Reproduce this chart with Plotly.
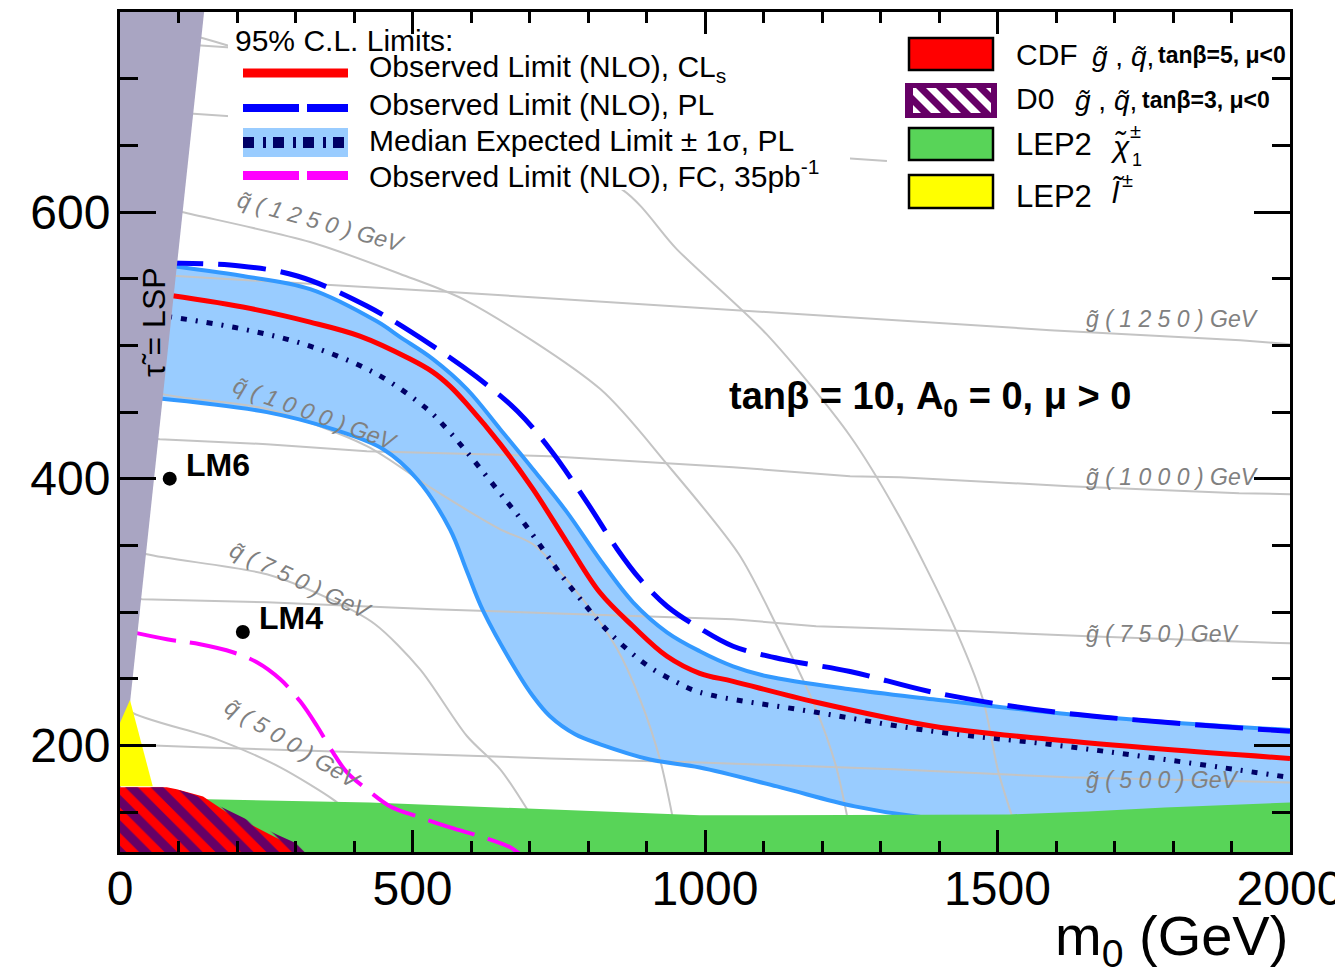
import plotly.graph_objects as go

FONT = "Liberation Sans, Arial, Helvetica, sans-serif"

# ---------------- data: m0 [GeV] vs m1/2 [GeV] ----------------
# Observed limit (NLO), CLs
cls_m0 = [60, 210, 325, 410, 496, 535, 564, 593, 650, 706, 764, 820, 877, 935, 991, 1048, 1190, 1390, 1588, 1786, 2000]
cls_m12 = [539, 528.7, 517.4, 506.9, 489.7, 479.9, 469.4, 455.9, 425.9, 392.1, 352.3, 314.8, 289.3, 266.8, 254.0, 248.0, 232.3, 214.3, 204.5, 197.0, 190.2]
# Observed limit (NLO), PL
pl_m0 = [60, 205, 303, 422, 535, 610, 679, 735, 798, 850, 889, 935, 991, 1048, 1133, 1248, 1390, 1588, 1786, 2000]
pl_m12 = [562, 559.5, 552.0, 529.5, 499.4, 476.2, 450.7, 422.1, 382.4, 347.1, 324.6, 304.3, 287.8, 274.3, 264.5, 255.4, 239.8, 225.5, 217.3, 210.5]
# Median expected limit, PL
exp_m0 = [60, 210, 325, 439, 525, 559, 593, 662, 696, 757, 790, 826, 867, 906, 952, 991, 1190, 1390, 1588, 1786, 2000]
exp_m12 = [523, 512.2, 499.4, 478.4, 452.2, 437.2, 419.9, 382.4, 363.6, 326.1, 308.1, 289.3, 272.0, 258.5, 247.3, 239.8, 224.8, 210.5, 200.8, 189.4, 175.9]
# +1 sigma / -1 sigma band edges
up_m0 = [60, 210, 325, 439, 479, 535, 593, 650, 706, 764, 820, 877, 935, 991, 1048, 1106, 1248, 1390, 1588, 1786, 2000]
up_m12 = [561, 552.0, 542.2, 518.0, 506.2, 489.7, 467.2, 437.1, 407.1, 374.9, 339.6, 307.3, 284.8, 270.6, 259.3, 251.8, 242.0, 234.5, 224.8, 217.5, 211.5]
lo_m0 = [60, 251, 364, 450, 508, 564, 593, 621, 679, 706, 735, 778, 821, 906, 991, 1123, 1256, 1362, 1500, 1700, 2000]
lo_m12 = [460.5, 449.9, 437.1, 422.1, 399.6, 362.1, 330.6, 300.6, 254.8, 236.8, 221.8, 208.3, 200.8, 189.4, 183.4, 169.2, 154.2, 146.6, 142, 140, 140]
# Observed limit (NLO), FC, 35 pb-1
fc_m0 = [15, 80, 137, 193, 234, 274, 308, 337, 364, 388, 422, 462, 508, 564, 621, 667, 684]
fc_m12 = [285.5, 279.6, 275.8, 269.8, 262.3, 249.5, 233.0, 214.3, 194.7, 179.7, 167.0, 154.2, 146.7, 138.5, 131.0, 123.5, 118.2]

# excluded regions (upper edges)
lep_chi_m0 = [0, 149, 427, 735, 991, 1521, 1655, 1786, 2000]
lep_chi_m12 = [160, 159.5, 157.2, 151.8, 147.5, 148.2, 150.4, 153.4, 157.2]
cdf_m0 = [0, 80, 97, 142, 183, 239, 296, 318]
cdf_m12 = [168.5, 168.5, 167, 161.7, 149.7, 137, 124.2, 112]
d0_m0 = [0, 85, 125, 154, 210, 268, 325, 340]
d0_m12 = [168.5, 168.5, 163.2, 157.9, 145.9, 133.1, 121.9, 112]
lep_slep_m0 = [0, 17, 56, 0]
lep_slep_m12 = [217, 234, 169.3, 169.3]
stau_lsp_m0 = [0, 144, 0]
stau_lsp_m12 = [751, 751, 162]

# iso-mass contours
gl_1750 = ([0, 500], [729, 714])
gl_1500 = ([0, 1311], [677.5, 638.3])
gl_1250 = ([0, 97, 564, 1333, 1590, 1915, 2000], [555, 552, 540, 518.2, 511.4, 503.9, 500.9])
gl_1000 = ([0, 68, 251, 422, 735, 821, 1048, 1248, 1333, 1622, 1913, 2000],
           [432, 429.6, 425.9, 420.6, 416.9, 414.6, 408.6, 401.9, 401.1, 394.4, 389.1, 388.4])
gl_750 = ([0, 38, 251, 535, 735, 1048, 1190, 1455, 1655, 2000],
          [311, 309.6, 307.3, 302.1, 299.1, 294.6, 289.3, 285.6, 281.8, 276.5])
gl_500 = ([0, 137, 422, 735, 991, 1323, 1620, 2000], [200.8, 198.5, 194.7, 190.2, 187.2, 182.0, 176.0, 172.2])
sq_500 = ([0, 17, 166, 274, 364, 385], [236, 225.5, 204.5, 183.5, 159.5, 152])
sq_750 = ([0, 46, 251, 359, 436, 513, 593, 650, 696], [350, 343.3, 328.3, 309.6, 290.8, 257.0, 207, 182, 152])
sq_1000 = ([0, 73.5, 251, 422, 535, 650, 706, 791, 850, 889, 923, 944],
           [475, 463.4, 452.2, 424.4, 392.1, 362, 350.8, 309.6, 272.0, 234.5, 189.5, 147.5])
sq_1250 = ([0, 106, 325, 479, 593, 821, 935, 1058, 1123, 1190, 1224, 1243],
           [611, 600, 577.5, 553.5, 533.2, 467.2, 410.9, 343.3, 289.3, 227.0, 184.2, 146.7])
sq_1500 = ([0, 145, 513, 858, 952, 1106, 1248, 1333, 1420, 1475, 1501, 1525],
           [745, 730, 677, 617, 572, 508, 432, 371, 295, 234.5, 181, 146.7])

# benchmark points
lm_names = ["LM6", "LM4"]
lm_m0 = [85, 210]
lm_m12 = [400, 285]

# contour label texts and anchor points
sq_labels = ["q\u0303 ( 1 2 5 0 ) GeV", "q\u0303 ( 1 0 0 0 ) GeV", "q\u0303 ( 7 5 0 ) GeV", "q\u0303 ( 5 0 0 ) GeV"]
sq_label_m0 = [345, 335, 310, 296]
sq_label_m12 = [592.5, 448.4, 323, 200.8]
sq_label_angle = [15.5, 20, 25, 31]
gl_labels = ["g\u0303 ( 1 2 5 0 ) GeV", "g\u0303 ( 1 0 0 0 ) GeV", "g\u0303 ( 7 5 0 ) GeV", "g\u0303 ( 5 0 0 ) GeV"]
gl_label_m0 = 1648
gl_label_m12 = [519.7, 401.1, 283.3, 173.7]

x_ticks = [0, 500, 1000, 1500, 2000]
y_ticks = [200, 400, 600]

# ---------------- colours ----------------
RED = "#ff0000"
BLUE = "#0000ff"
NAVY = "#000066"
BAND = "#99ccff"
BANDEDGE = "#3399ff"
MAGENTA = "#ff00ff"
GREEN = "#58d458"
YELLOW = "#ffff00"
LSPGREY = "#a9a5c2"
PURPLE = "#660066"
CONT = "#c4c4c4"
CONTTXT = "#808080"

fig = go.Figure()


def line(x, y, color, width, dash="solid", shape="spline", smoothing=1.0):
    fig.add_trace(go.Scatter(x=x, y=y, mode="lines",
                             line=dict(color=color, width=width, dash=dash, shape=shape, smoothing=smoothing),
                             hoverinfo="skip", showlegend=False))


# band fill
fig.add_trace(go.Scatter(x=lo_m0, y=lo_m12, mode="lines", line=dict(width=0, shape="spline", smoothing=1.0),
                         hoverinfo="skip", showlegend=False))
fig.add_trace(go.Scatter(x=up_m0, y=up_m12, mode="lines", line=dict(width=0, shape="spline", smoothing=1.0),
                         fill="tonexty", fillcolor=BAND, hoverinfo="skip", showlegend=False))

# iso-mass contours
for cx, cy in [gl_1750, gl_1500, gl_1250, gl_1000, gl_750, gl_500]:
    line(cx, cy, CONT, 2, shape="linear")
for cx, cy in [sq_500, sq_750, sq_1000, sq_1250, sq_1500]:
    line(cx, cy, CONT, 2, smoothing=0.8)

# band edges
line(up_m0, up_m12, BANDEDGE, 4)
line(lo_m0, lo_m12, BANDEDGE, 4)

# LEP2 chargino region
fig.add_trace(go.Scatter(x=lep_chi_m0 + [2000, 0], y=lep_chi_m12 + [100, 100], mode="lines",
                         fill="toself", fillcolor=GREEN, line=dict(width=0), hoverinfo="skip", showlegend=False))

# limit curves
line(exp_m0, exp_m12, NAVY, 5, dash="6px,9px,2px,9px")
line(cls_m0, cls_m12, RED, 5)
line(pl_m0, pl_m12, BLUE, 5, dash="48px,15px")
line(fc_m0, fc_m12, MAGENTA, 4, dash="48px,14px")

# stau LSP region
fig.add_trace(go.Scatter(x=stau_lsp_m0, y=stau_lsp_m12, mode="lines", fill="toself", fillcolor=LSPGREY,
                         line=dict(width=0), hoverinfo="skip", showlegend=False))
# LEP2 slepton
fig.add_trace(go.Scatter(x=lep_slep_m0, y=lep_slep_m12, mode="lines", fill="toself", fillcolor=YELLOW,
                         line=dict(width=0), hoverinfo="skip", showlegend=False))
# CDF
fig.add_trace(go.Scatter(x=cdf_m0 + [318, 0], y=cdf_m12 + [100, 100], mode="lines", fill="toself", fillcolor=RED,
                         line=dict(width=0), hoverinfo="skip", showlegend=False))
# D0 (hatched)
fig.add_trace(go.Scatter(x=d0_m0 + [340, 0], y=d0_m12 + [100, 100], mode="lines", fill="toself",
                         fillcolor="rgba(0,0,0,0)",
                         fillpattern=dict(shape="\\", fgcolor=PURPLE, bgcolor="rgba(0,0,0,0)", size=18,
                                          solidity=0.5, fillmode="replace"),
                         line=dict(width=0), hoverinfo="skip", showlegend=False))

# LM points
fig.add_trace(go.Scatter(x=lm_m0, y=lm_m12, mode="markers", marker=dict(color="black", size=14),
                         hoverinfo="skip", showlegend=False))

annotations = []
for name, x0, y0 in zip(lm_names, lm_m0, lm_m12):
    annotations.append(dict(x=x0, y=y0, xref="x", yref="y", text="<b>%s</b>" % name, showarrow=False,
                            xanchor="left", yanchor="bottom", xshift=14, yshift=-6,
                            font=dict(family=FONT, size=32, color="black")))
for t, x0, y0, a in zip(sq_labels, sq_label_m0, sq_label_m12, sq_label_angle):
    annotations.append(dict(x=x0, y=y0, xref="x", yref="y", text="<i>%s</i>" % t, showarrow=False,
                            textangle=a, font=dict(family=FONT, size=23, color=CONTTXT)))
for t, y0 in zip(gl_labels, gl_label_m12):
    annotations.append(dict(x=gl_label_m0, y=y0, xref="x", yref="y", text="<i>%s</i>" % t, showarrow=False,
                            xanchor="left", yanchor="middle", font=dict(family=FONT, size=23, color=CONTTXT)))

# model parameters text
annotations.append(dict(x=1385, y=460, xref="x", yref="y",
                        text="<b>tanβ = 10, A<sub>0</sub> = 0, μ &gt; 0</b>", showarrow=False,
                        font=dict(family=FONT, size=38, color="black")))


# ---------------- layout helpers (screen pixel -> paper) ----------------
def PX(px):
    return (px - 120) / 1170.0


def PY(py):
    return (852 - py) / 840.0


annotations.append(dict(x=PX(134), y=PY(322), xref="paper", yref="paper", text="τ\u0303 = LSP", showarrow=False,
                        textangle=-90, font=dict(family=FONT, size=32, color="black")))

shapes = []
# legend 1 background
shapes.append(dict(type="rect", xref="paper", yref="paper", x0=PX(228), x1=PX(850), y0=PY(190), y1=PY(36),
                   fillcolor="white", line=dict(width=0), layer="above"))
# legend 1 samples
shapes.append(dict(type="line", xref="paper", yref="paper", x0=PX(243), x1=PX(348), y0=PY(73), y1=PY(73),
                   line=dict(color=RED, width=9), layer="above"))
shapes.append(dict(type="line", xref="paper", yref="paper", x0=PX(243), x1=PX(348), y0=PY(108), y1=PY(108),
                   line=dict(color=BLUE, width=8, dash="56px,8px"), layer="above"))
shapes.append(dict(type="rect", xref="paper", yref="paper", x0=PX(243), x1=PX(348), y0=PY(157), y1=PY(128),
                   fillcolor=BAND, line=dict(width=0), layer="above"))
shapes.append(dict(type="line", xref="paper", yref="paper", x0=PX(243), x1=PX(348), y0=PY(142.5), y1=PY(142.5),
                   line=dict(color=NAVY, width=11, dash="11px,9px,3px,7px"), layer="above"))
shapes.append(dict(type="line", xref="paper", yref="paper", x0=PX(243), x1=PX(348), y0=PY(175.5), y1=PY(175.5),
                   line=dict(color=MAGENTA, width=9, dash="56px,8px"), layer="above"))

# legend 2 boxes
for (y0, y1, col) in [(38, 70, RED), (128, 160, GREEN), (175, 208, YELLOW)]:
    shapes.append(dict(type="rect", xref="paper", yref="paper", x0=PX(909), x1=PX(993), y0=PY(y1), y1=PY(y0),
                       fillcolor=col, line=dict(color="black", width=2.5), layer="above"))
shapes.append(dict(type="rect", xref="paper", yref="paper", x0=PX(905), x1=PX(997), y0=PY(118), y1=PY(83),
                   fillcolor=PURPLE, line=dict(width=0), layer="above"))


def clip(poly, xmin, xmax, ymin, ymax):
    def clip_edge(pts, inside, inter):
        out = []
        n = len(pts)
        for i in range(n):
            cur, prev = pts[i], pts[i - 1]
            if inside(cur):
                if not inside(prev):
                    out.append(inter(prev, cur))
                out.append(cur)
            elif inside(prev):
                out.append(inter(prev, cur))
        return out

    def ix(xc):
        return lambda p, q: (xc, p[1] + (q[1] - p[1]) * (xc - p[0]) / (q[0] - p[0]))

    def iy(yc):
        return lambda p, q: (p[0] + (q[0] - p[0]) * (yc - p[1]) / (q[1] - p[1]), yc)

    pts = poly
    for inside, inter in [(lambda p: p[0] >= xmin, ix(xmin)), (lambda p: p[0] <= xmax, ix(xmax)),
                          (lambda p: p[1] >= ymin, iy(ymin)), (lambda p: p[1] <= ymax, iy(ymax))]:
        if not pts:
            break
        pts = clip_edge(pts, inside, inter)
    return pts


for a in range(866, 1000, 20):
    poly = [(a, 88), (a + 10, 88), (a + 35, 113), (a + 25, 113)]
    c = clip(poly, 913, 991, 88, 113)
    if len(c) >= 3:
        path = "M " + " L ".join("%.5f,%.5f" % (PX(p[0]), PY(p[1])) for p in c) + " Z"
        shapes.append(dict(type="path", xref="paper", yref="paper", path=path, fillcolor="white",
                           line=dict(width=0), layer="above"))


def txt(px, py, text, size=30, anchor="left", bold=False):
    if bold:
        text = "<b>%s</b>" % text
    annotations.append(dict(x=PX(px), y=PY(py), xref="paper", yref="paper", text=text, showarrow=False,
                            xanchor=anchor, yanchor="middle", font=dict(family=FONT, size=size, color="black")))


txt(233, 41, "95% C.L. Limits:", 30)
txt(367, 69, "Observed Limit (NLO), CL<sub>s</sub>")
txt(367, 104, "Observed Limit (NLO), PL")
txt(367, 140, "Median Expected Limit ± 1σ, PL")
txt(367, 174, "Observed Limit (NLO), FC, 35pb<sup>-1</sup>")

txt(1014, 54, "CDF", 30)
txt(1090, 56, "<i>g\u0303</i> , <i>q\u0303</i>,", 28)
txt(1156, 55, "tanβ=5, μ&lt;0", 23, bold=True)
txt(1014, 99, "D0", 30)
txt(1073, 101, "<i>g\u0303</i> , <i>q\u0303</i>,", 28)
txt(1140, 100, "tanβ=3, μ&lt;0", 23, bold=True)
txt(1014, 144, "LEP2", 31)
txt(1108, 146, "<i>χ\u0303</i>", 30)
txt(1128, 131, "±", 20)
txt(1130, 160, "1", 18)
txt(1014, 196, "LEP2", 31)
txt(1110, 192, "<i>l\u0303</i>", 30)
txt(1120, 180, "±", 20)

# x axis title
annotations.append(dict(x=1.0, y=PY(902), xref="paper", yref="paper", text="m<sub>0</sub> (GeV)", showarrow=False,
                        xanchor="right", yanchor="top", font=dict(family=FONT, size=56, color="black")))

axis_common = dict(showline=True, linecolor="black", linewidth=3, mirror="allticks", ticks="inside",
                   tickwidth=3, tickcolor="black", showgrid=False, zeroline=False,
                   tickfont=dict(family=FONT, size=48, color="black"), automargin=False,
                   ticklabeloverflow="allow")

# the page body adds an 8px offset, so the figure is 16px smaller than the window
fig.update_layout(
    width=1335, height=968,
    margin=dict(l=112, r=53, t=4, b=124),
    paper_bgcolor="white", plot_bgcolor="white",
    showlegend=False,
    xaxis=dict(range=[0, 2000], tickvals=x_ticks, ticktext=[str(v) for v in x_ticks], ticklen=22,
               ticklabelstandoff=-8,
               minor=dict(ticks="inside", dtick=100, tick0=0, ticklen=11, tickwidth=3, tickcolor="black",
                          showgrid=False),
               **axis_common),
    yaxis=dict(range=[120, 750], tickvals=y_ticks, ticktext=[str(v) for v in y_ticks], ticklen=36,
               ticklabelstandoff=-3,
               minor=dict(ticks="inside", dtick=50, tick0=0, ticklen=18, tickwidth=3, tickcolor="black",
                          showgrid=False),
               **axis_common),
    annotations=annotations,
    shapes=shapes,
)

fig.write_html("out.html")
